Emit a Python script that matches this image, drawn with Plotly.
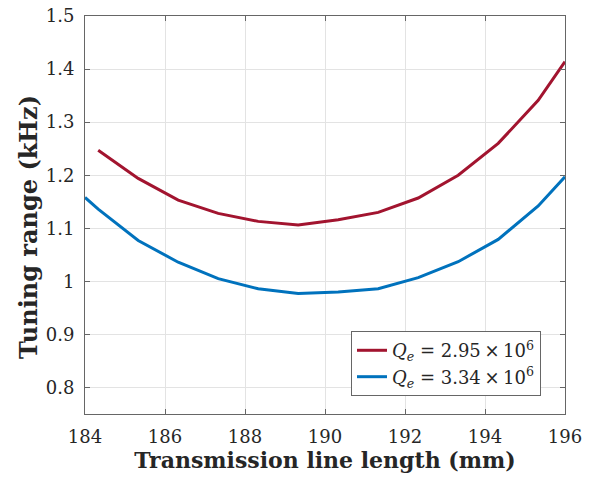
import plotly.graph_objects as go

# Data
red_x = [184.33, 185.33, 186.33, 187.33, 188.33, 189.33, 190.33, 191.33, 192.33, 193.33, 194.33, 195.33, 196.0]
red_y = [1.247, 1.194, 1.153, 1.128, 1.113, 1.106, 1.116, 1.130, 1.157, 1.200, 1.260, 1.341, 1.414]
blue_x = [184.0, 184.33, 185.33, 186.33, 187.33, 188.33, 189.33, 190.33, 191.33, 192.33, 193.33, 194.33, 195.33, 196.0]
blue_y = [1.158, 1.136, 1.077, 1.036, 1.005, 0.986, 0.977, 0.980, 0.986, 1.007, 1.037, 1.079, 1.142, 1.197]

x_ticks = [184, 186, 188, 190, 192, 194, 196]
y_ticks = [0.8, 0.9, 1.0, 1.1, 1.2, 1.3, 1.4, 1.5]
y_ticktext = ["0.8", "0.9", "1", "1.1", "1.2", "1.3", "1.4", "1.5"]

red_name = "<i>Q<sub>e</sub></i> = 2.95\u2009×\u200910<sup>6</sup>"
blue_name = "<i>Q<sub>e</sub></i> = 3.34\u2009×\u200910<sup>6</sup>"
x_title = "<b>Transmission line length (mm)</b>"
y_title = "<b>Tuning range (kHz)</b>"

FONT = "DejaVu Serif"

fig = go.Figure()
fig.add_trace(go.Scatter(x=red_x, y=red_y, mode="lines", name=red_name,
                         line=dict(color="#A2142F", width=3)))
fig.add_trace(go.Scatter(x=blue_x, y=blue_y, mode="lines", name=blue_name,
                         line=dict(color="#0072BD", width=3)))

axis_common = dict(
    showgrid=True, gridcolor="#e3e3e3", gridwidth=1,
    showline=True, linecolor="#666666", linewidth=1, mirror="ticks",
    ticks="inside", ticklen=5, tickcolor="#666666",
    zeroline=False, automargin=False, ticklabeloverflow="allow",
    tickfont=dict(family=FONT, size=18, color="#262626"),
)

fig.update_layout(
    width=606, height=485,
    margin=dict(l=85, r=41, t=16, b=71),
    paper_bgcolor="white", plot_bgcolor="white",
    font=dict(family=FONT, color="#262626"),
    xaxis=dict(range=[184, 196], tickvals=x_ticks, ticklabelstandoff=6,
               title=dict(text=x_title,
                          font=dict(family=FONT, size=22, color="#262626"), standoff=4),
               **axis_common),
    yaxis=dict(range=[0.75, 1.5], tickvals=y_ticks, ticktext=y_ticktext, ticklabelstandoff=6,
               **axis_common),
    legend=dict(x=0.95, y=0.045, xanchor="right", yanchor="bottom",
                bordercolor="#666666", borderwidth=1, bgcolor="white",
                font=dict(family=FONT, size=18, color="#262626"),
                tracegroupgap=0, itemwidth=30),
    showlegend=True,
)

fig.add_annotation(text=y_title, textangle=-90, showarrow=False,
                   xref="paper", yref="paper", x=-0.1167, y=0.47,
                   xanchor="center", yanchor="middle",
                   font=dict(family=FONT, size=24, color="#262626"))

fig.write_html("out.html", config={"displayModeBar": False},
               post_script="document.body.style.margin='0';")
